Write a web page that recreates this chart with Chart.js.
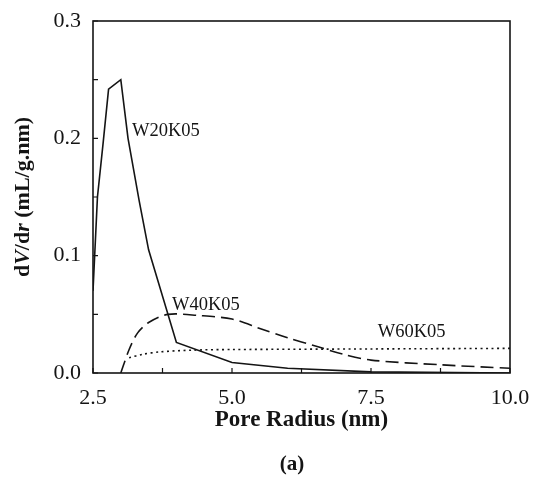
<!DOCTYPE html>
<html>
<head>
<meta charset="utf-8">
<script src="https://cdn.jsdelivr.net/npm/chart.js@4.4.0/dist/chart.umd.min.js"></script>
<style>
    body { margin: 0; background: #fff; }
    canvas { display: block; }
</style>
</head>
<body>
<canvas id="chart" width="533" height="488"></canvas>
<script>
// pore size distributions
const w20x = [2.5, 2.58, 2.68, 2.78, 3.0, 3.13, 3.33, 3.5, 4.0, 5.0, 6.0, 7.5, 10.0];
const w20y = [0.07, 0.15, 0.195, 0.242, 0.25, 0.2, 0.147, 0.105, 0.026, 0.009, 0.004, 0.001, 0.0];
const w40x = [3.0, 3.15, 3.3, 3.5, 3.85, 4.4, 5.0, 5.5, 6.0, 6.5, 7.0, 7.5, 8.75, 10.0];
const w40y = [0.0, 0.02, 0.034, 0.043, 0.05, 0.049, 0.046, 0.038, 0.03, 0.023, 0.016, 0.011, 0.007, 0.004];
const w60x = [3.15, 3.4, 3.7, 4.3, 5.0, 7.5, 10.0];
const w60y = [0.013, 0.016, 0.018, 0.0195, 0.02, 0.0205, 0.021];
const seriesNames = ['W20K05', 'W40K05', 'W60K05'];
// where each curve name is written (data units)
const labelX = [3.2, 3.92, 7.62];
const labelY = [0.206, 0.058, 0.035];
const xTickLabels = [2.5, 5.0, 7.5, 10.0];
const yTickLabels = [0.0, 0.1, 0.2, 0.3];

const ink = '#141414';
const serif = '"Liberation Serif", "DejaVu Serif", serif';

const pts = (xs, ys) => xs.map((x, i) => ({ x: x, y: ys[i] }));

const decorations = {
    id: 'decorations',
    afterDraw(chart) {
        const { ctx, chartArea: a, scales: { x, y } } = chart;
        ctx.save();
        ctx.strokeStyle = ink;
        ctx.lineWidth = 1.6;
        ctx.strokeRect(a.left, a.top, a.right - a.left, a.bottom - a.top);

        // inward tick marks
        ctx.lineWidth = 1.2;
        ctx.beginPath();
        x.ticks.forEach((t) => {
            const px = x.getPixelForValue(t.value);
            ctx.moveTo(px, a.bottom);
            ctx.lineTo(px, a.bottom - 5);
        });
        y.ticks.forEach((t) => {
            const py = y.getPixelForValue(t.value);
            ctx.moveTo(a.left, py);
            ctx.lineTo(a.left + 5, py);
        });
        ctx.stroke();

        // curve names
        ctx.fillStyle = ink;
        ctx.font = '18.5px ' + serif;
        ctx.textBaseline = 'middle';
        seriesNames.forEach((name, i) => {
            ctx.fillText(name, x.getPixelForValue(labelX[i]), y.getPixelForValue(labelY[i]));
        });

        // (a)
        ctx.font = 'bold 21px ' + serif;
        ctx.textAlign = 'center';
        ctx.fillText('(a)', 292, 465);

        // y title with italic V and r
        const parts = [['d', 'bold'], ['V', 'italic bold'], ['/d', 'bold'], ['r', 'italic bold'], [' (mL/g.nm)', 'bold']];
        let total = 0;
        parts.forEach((p) => {
            ctx.font = p[1] + ' 22px ' + serif;
            total += ctx.measureText(p[0]).width;
        });
        ctx.translate(23, (a.top + a.bottom) / 2);
        ctx.rotate(-Math.PI / 2);
        ctx.textAlign = 'left';
        let pos = -total / 2;
        parts.forEach((p) => {
            ctx.font = p[1] + ' 22px ' + serif;
            ctx.fillText(p[0], pos, 0);
            pos += ctx.measureText(p[0]).width;
        });
        ctx.restore();
    },
};

new Chart(document.getElementById('chart'), {
    type: 'line',
    data: {
        datasets: [
            {
                label: seriesNames[0],
                data: pts(w20x, w20y),
                borderColor: ink,
                borderWidth: 1.6,
                pointRadius: 0,
                tension: 0,
            },
            {
                label: seriesNames[1],
                data: pts(w40x, w40y),
                borderColor: ink,
                borderWidth: 1.6,
                borderDash: [13, 6],
                pointRadius: 0,
                tension: 0.3,
            },
            {
                label: seriesNames[2],
                data: pts(w60x, w60y),
                borderColor: ink,
                borderWidth: 1.6,
                borderDash: [2, 3.5],
                pointRadius: 0,
                tension: 0.3,
            },
        ],
    },
    options: {
        responsive: false,
        animation: false,
        layout: { padding: { top: 21, right: 23, left: 0, bottom: 0 } },
        plugins: {
            legend: { display: false },
            tooltip: { enabled: false },
        },
        scales: {
            x: {
                type: 'linear',
                min: 2.5,
                max: 10,
                border: { display: false },
                grid: { display: false, drawTicks: false },
                ticks: {
                    stepSize: 1.25,
                    autoSkip: false,
                    maxRotation: 0,
                    padding: 12,
                    color: ink,
                    font: { family: serif, size: 22 },
                    callback: (v) => (xTickLabels.includes(v) ? v.toFixed(1) : ''),
                },
                title: {
                    display: true,
                    text: 'Pore Radius (nm)',
                    color: ink,
                    font: { family: serif, size: 23, weight: 'bold' },
                    padding: { top: 0, bottom: 54 },
                },
                afterFit: (scale) => {
                    scale.height = 115;
                    scale.paddingLeft = 0;
                    scale.paddingRight = 0;
                },
            },
            y: {
                min: 0,
                max: 0.3,
                border: { display: false },
                grid: { display: false, drawTicks: false },
                ticks: {
                    stepSize: 0.05,
                    autoSkip: false,
                    padding: 12,
                    color: ink,
                    font: { family: serif, size: 22 },
                    callback: (v) => {
                        const r = Math.round(v * 10) / 10;
                        return Math.abs(v - r) < 1e-6 && yTickLabels.includes(r) ? r.toFixed(1) : '';
                    },
                },
                afterFit: (scale) => {
                    scale.width = 93;
                    scale.paddingTop = 0;
                    scale.paddingBottom = 0;
                },
            },
        },
    },
    plugins: [decorations],
});
</script>
</body>
</html>
